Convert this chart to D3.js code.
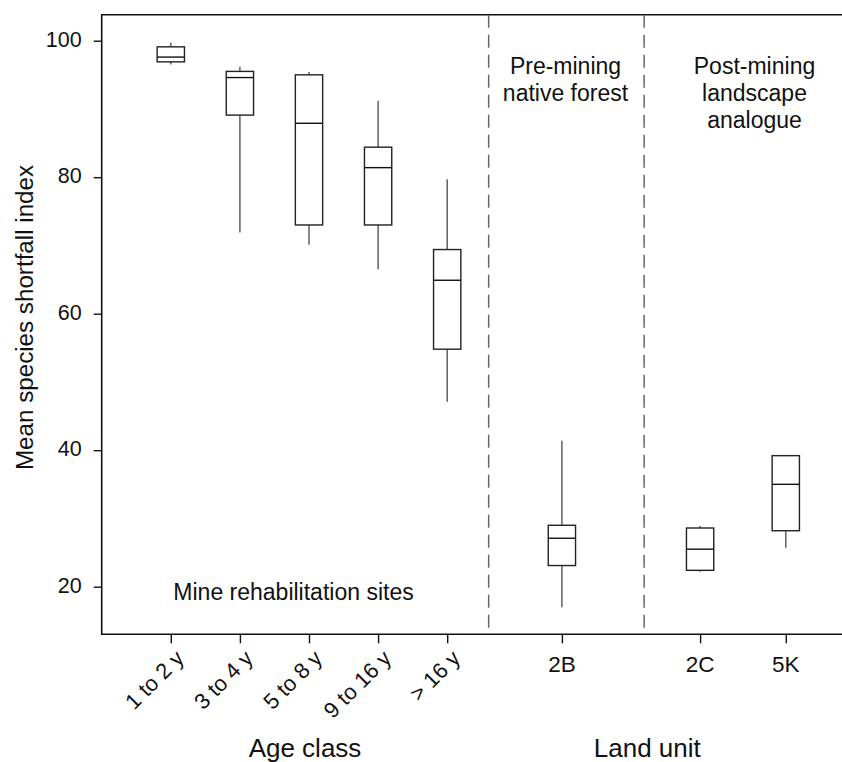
<!DOCTYPE html>
<html>
<head>
<meta charset="utf-8">
<script src="https://cdn.jsdelivr.net/npm/d3@7"></script>
<style>
  html, body { margin: 0; padding: 0; background: #fff; }
  svg { display: block; }
  text { font-family: "Liberation Sans", Arial, sans-serif; fill: #111; }
</style>
</head>
<body>
<svg id="chart" width="842" height="762"></svg>
<script>
// Mean species shortfall index by site group (box-plot summaries)
const categories = ["1 to 2 y", "3 to 4 y", "5 to 8 y", "9 to 16 y", "> 16 y", "2B", "2C", "5K"];
const groupOf    = ["age", "age", "age", "age", "age", "land", "land", "land"];
const whiskerLow = [96.5, 71.9, 70.1, 66.5, 47.1, 17.0, 22.2, 25.7];
const boxLow     = [96.9, 89.1, 73.0, 73.0, 54.8, 23.1, 22.4, 28.2];
const medians    = [97.6, 94.6, 87.9, 81.4, 64.9, 27.1, 25.5, 35.0];
const boxHigh    = [99.1, 95.5, 95.0, 84.4, 69.4, 29.0, 28.6, 39.2];
const whiskerHigh= [99.7, 96.2, 95.4, 91.2, 79.7, 41.4, 28.9, 39.2];
const yTicks     = [20, 40, 60, 80, 100];

const svg = d3.select("#chart");

// Plot frame (the right side runs past the page edge)
const frame = { left: 101.7, top: 14.7, bottom: 634.3, right: 850 };

// Box slots along the x axis; sections are separated by dashed lines
const slotAt = [1, 2, 3, 4, 5, 6.66, 8.66, 9.9];
const dividers = [5.6, 7.85];
const x = d3.scaleLinear().domain([0, 1]).range([frame.left, frame.left + 69.1]);
const y = d3.scaleLinear().domain([20, 100]).range([586.7, 40.7]);

const boxWidth = 27.3;

// Frame lines: top, left, bottom
svg.append("path")
  .attr("d", `M${frame.right},${frame.top}H${frame.left}V${frame.bottom}H${frame.right}`)
  .attr("fill", "none").attr("stroke", "#111").attr("stroke-width", 1.6);

// Y axis
const yAxis = svg.append("g")
  .attr("transform", `translate(${frame.left},0)`)
  .call(d3.axisLeft(y).tickValues(yTicks).tickSize(8).tickPadding(12).tickFormat(d3.format("d")));
yAxis.select(".domain").remove();
yAxis.selectAll(".tick line").attr("stroke", "#111").attr("stroke-width", 1.4);
yAxis.selectAll(".tick text")
  .attr("font-family", "'Liberation Sans', Arial, sans-serif")
  .attr("font-size", 21.5).attr("fill", "#111").attr("dy", "0.26em");

// X axis ticks (custom per-slot)
const xAxis = svg.append("g")
  .attr("transform", `translate(0,${frame.bottom})`)
  .call(d3.axisBottom(x).tickValues(slotAt).tickSize(9).tickFormat(""));
xAxis.select(".domain").remove();
xAxis.selectAll(".tick line").attr("stroke", "#111").attr("stroke-width", 1.4);

// Rotated age-class labels
svg.append("g").selectAll("text")
  .data(categories.map((c, i) => ({ c, i })).filter(d => groupOf[d.i] === "age"))
  .join("text")
  .attr("transform", d => `translate(${x(slotAt[d.i]) + 9},${frame.bottom + 20}) rotate(-45)`)
  .attr("text-anchor", "end")
  .attr("font-size", 22)
  .attr("dy", "0.35em")
  .text(d => d.c);

// Land-unit labels
svg.append("g").selectAll("text")
  .data(categories.map((c, i) => ({ c, i })).filter(d => groupOf[d.i] === "land"))
  .join("text")
  .attr("x", d => x(slotAt[d.i]))
  .attr("y", 671.7)
  .attr("text-anchor", "middle")
  .attr("font-size", 22.5)
  .text(d => d.c);

// Section dividers
svg.append("g").selectAll("line")
  .data(dividers)
  .join("line")
  .attr("x1", d => x(d)).attr("x2", d => x(d))
  .attr("y1", frame.top).attr("y2", frame.bottom)
  .attr("stroke", "#666").attr("stroke-width", 1.5)
  .attr("stroke-dasharray", "13,7");

// Box plots
const boxes = svg.append("g").selectAll("g")
  .data(categories.map((c, i) => i))
  .join("g");

boxes.append("line")
  .attr("x1", i => x(slotAt[i])).attr("x2", i => x(slotAt[i]))
  .attr("y1", i => y(boxHigh[i])).attr("y2", i => y(whiskerHigh[i]))
  .attr("stroke", "#555").attr("stroke-width", 1.4);
boxes.append("line")
  .attr("x1", i => x(slotAt[i])).attr("x2", i => x(slotAt[i]))
  .attr("y1", i => y(boxLow[i])).attr("y2", i => y(whiskerLow[i]))
  .attr("stroke", "#555").attr("stroke-width", 1.4);
boxes.append("rect")
  .attr("x", i => x(slotAt[i]) - boxWidth / 2)
  .attr("width", boxWidth)
  .attr("y", i => y(boxHigh[i]))
  .attr("height", i => y(boxLow[i]) - y(boxHigh[i]))
  .attr("fill", "#fff").attr("stroke", "#222").attr("stroke-width", 1.4);
boxes.append("line")
  .attr("x1", i => x(slotAt[i]) - boxWidth / 2).attr("x2", i => x(slotAt[i]) + boxWidth / 2)
  .attr("y1", i => y(medians[i])).attr("y2", i => y(medians[i]))
  .attr("stroke", "#111").attr("stroke-width", 1.4);

// Section annotations
const notes = [
  { lines: ["Mine rehabilitation sites"], cx: 293.5, y0: 600 },
  { lines: ["Pre-mining", "native forest"], cx: 565.5, y0: 74 },
  { lines: ["Post-mining", "landscape", "analogue"], cx: 754.5, y0: 74 }
];
notes.forEach(n => {
  svg.append("text")
    .attr("text-anchor", "middle")
    .attr("font-size", 23)
    .selectAll("tspan")
    .data(n.lines)
    .join("tspan")
    .attr("x", n.cx)
    .attr("y", (d, k) => n.y0 + k * 27)
    .text(d => d);
});

// Axis titles
svg.append("text")
  .attr("x", 305).attr("y", 757)
  .attr("text-anchor", "middle").attr("font-size", 26)
  .text("Age class");
svg.append("text")
  .attr("x", 647.3).attr("y", 757)
  .attr("text-anchor", "middle").attr("font-size", 26)
  .text("Land unit");
svg.append("text")
  .attr("transform", "translate(33,317.5) rotate(-90)")
  .attr("text-anchor", "middle")
  .attr("font-family", "'Open Sans', 'Noto Sans', sans-serif")
  .attr("font-size", 24.2)
  .text("Mean species shortfall index");
</script>
</body>
</html>
